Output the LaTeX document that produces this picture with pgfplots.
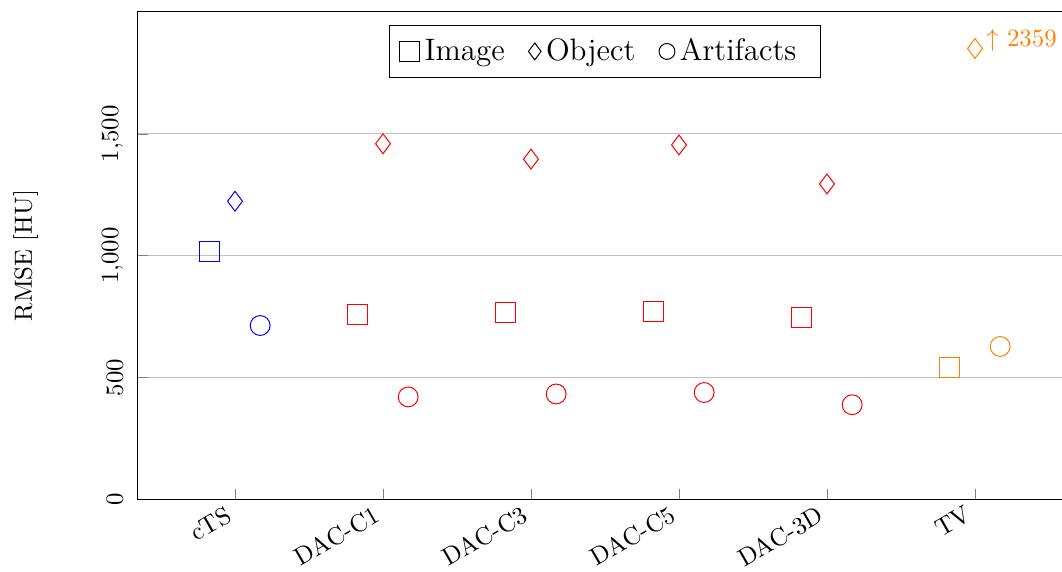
\documentclass[border=0pt]{standalone}
\usepackage{pgfplots}
\usepackage{pgfplotstable}
\pgfplotsset{compat=1.18}

% RMSE per method: image, object and artifact regions
\pgfplotstableread{
cat image object artifacts
0   1016  1223   713
1    757  1459   420
2    768  1396   432
3    772  1454   438
4    747  1294   388
5    541  2359   627
}\rmsetable

\pgfplotsset{
  rmse/.style={only marks, mark size=4pt, forget plot},
  cts/.style={rmse, color=blue, restrict x to domain=-1:0.5},
  dac/.style={rmse, color=red, restrict x to domain=0.5:4.5},
  tv/.style={rmse, color=orange, restrict x to domain=4.5:6},
}

\begin{document}
\begin{tikzpicture}
\begin{axis}[
  scale only axis,
  width=377.2pt, height=196.4pt,
  xmin=-0.662, xmax=5.662,
  ymin=0, ymax=2000,
  xtick={0,...,5},
  xticklabels={cTS,DAC-C1,DAC-C3,DAC-C5,DAC-3D,TV},
  xticklabel style={xshift=-3pt, yshift=2.5pt, rotate=30, anchor=north east},
  ytick={0,500,1000,1500},
  yticklabel style={rotate=90, anchor=south, inner ysep=5.5pt},
  tick pos=left,
  major tick style={gray},
  ymajorgrids,
  major grid style={lightgray},
  ylabel={RMSE [HU]},
  ylabel style={at={(axis description cs:-0.119,0.5)}, anchor=center},
  legend columns=-1,
  legend style={at={(0.5,0.973)}, anchor=north, font=\fontsize{12.5}{15}\selectfont,
    inner xsep=4pt, inner ysep=3.2pt,
    /tikz/every even column/.append style={column sep=7.5pt}},
  legend image code/.code={\draw[#1] plot coordinates {(0pt,0pt)};},
]
\addlegendimage{black, mark=square, mark size=4pt}
\addlegendentry{Image}
\addlegendimage{black, mark=diamond, mark size=3.4pt}
\addlegendentry{Object}
\addlegendimage{black, mark=o, mark size=3.2pt}
\addlegendentry{Artifacts\hspace*{3.5pt}}

% image RMSE, left of each tick
\addplot[cts, mark=square] table[x expr=\thisrow{cat}-0.17, y=image]{\rmsetable};
\addplot[dac, mark=square] table[x expr=\thisrow{cat}-0.17, y=image]{\rmsetable};
\addplot[tv,  mark=square] table[x expr=\thisrow{cat}-0.17, y=image]{\rmsetable};

% object RMSE, on the tick
\addplot[cts, mark=diamond] table[x=cat, y=object]{\rmsetable};
\addplot[dac, mark=diamond] table[x=cat, y=object]{\rmsetable};

% artifact RMSE, right of each tick
\addplot[cts, mark=o] table[x expr=\thisrow{cat}+0.17, y=artifacts]{\rmsetable};
\addplot[dac, mark=o] table[x expr=\thisrow{cat}+0.17, y=artifacts]{\rmsetable};
\addplot[tv,  mark=o] table[x expr=\thisrow{cat}+0.17, y=artifacts]{\rmsetable};

% TV object value exceeds the axis: clamp the mark and print the value
\addplot[tv, mark=diamond,
  y filter/.expression={min(y,1850)},
  point meta=explicit,
  nodes near coords={$\uparrow$ \pgfmathprintnumber[1000 sep={}]{\pgfplotspointmeta}},
  nodes near coords style={anchor=west, inner sep=0pt, xshift=4.4pt, yshift=3.5pt, text=orange}]
  table[x=cat, y=object, meta=object]{\rmsetable};

\coordinate (bbSW) at (axis cs:-1.588,-295);
\coordinate (bbNE) at (axis cs:5.588,2049);
\end{axis}
\pgfresetboundingbox
\path[use as bounding box] (bbSW) rectangle (bbNE);
\end{tikzpicture}
\end{document}
